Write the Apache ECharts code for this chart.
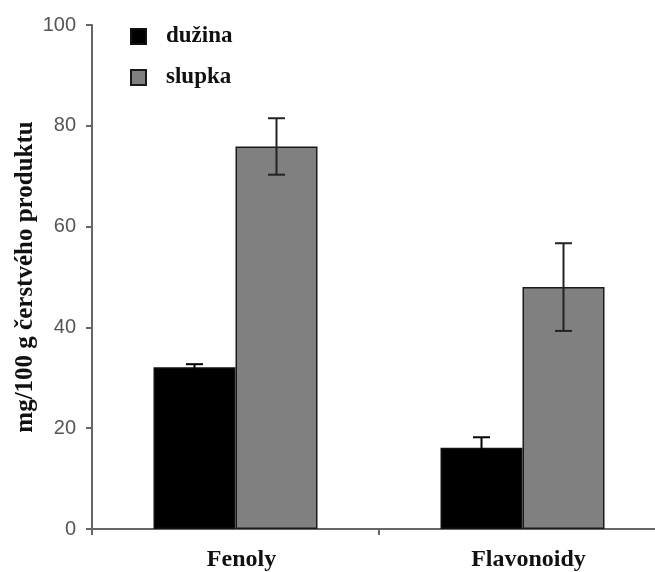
<!DOCTYPE html>
<html>
<head>
<meta charset="utf-8">
<script src="https://cdn.jsdelivr.net/npm/echarts@6/dist/echarts.min.js"></script>
<style>
html,body{margin:0;padding:0;background:#fff;}
#chart{width:655px;height:572px;}
</style>
</head>
<body>
<div id="chart"></div>
<script>
const categories = ['Fenoly', 'Flavonoidy'];
const duzina = [32.1, 16.1];
const duzinaErr = [0.6, 2.1];
const slupka = [75.9, 48.0];
const slupkaErr = [5.6, 8.7];
const yTicks = [0, 20, 40, 60, 80, 100];

const BAR_W = 82;
const serif = '"Liberation Serif", "Times New Roman", serif';
const sans = '"Liberation Sans", Arial, sans-serif';

const errData = [];
categories.forEach((c, i) => {
  errData.push([i, duzina[i], duzinaErr[i], -1]);
  errData.push([i, slupka[i], slupkaErr[i], 1]);
});

const chart = echarts.init(document.getElementById('chart'));
chart.setOption({
  animation: false,
  backgroundColor: '#fff',
  grid: { left: 92, top: 25, bottom: 43, width: 574, containLabel: false, outerBoundsMode: 'none' },
  legend: {
    data: ['dužina', 'slupka'],
    orient: 'vertical',
    left: 130, top: 25,
    padding: 0,
    itemWidth: 15, itemHeight: 15,
    itemGap: 18,
    icon: 'rect',
    textStyle: { fontFamily: serif, fontWeight: 'bold', fontSize: 23, color: '#111', padding: [0, 0, 0, 15] }
  },
  xAxis: {
    type: 'category',
    data: categories,
    boundaryGap: true,
    axisLine: { lineStyle: { color: '#666', width: 2 } },
    axisTick: { show: true, length: 6, lineStyle: { color: '#666', width: 2 } },
    axisLabel: { fontFamily: serif, fontWeight: 'bold', fontSize: 24, color: '#111', margin: 19, padding: [0, 0, 0, 12] }
  },
  yAxis: {
    type: 'value',
    min: yTicks[0], max: yTicks[yTicks.length - 1], interval: yTicks[1] - yTicks[0],
    name: 'mg/100 g čerstvého produktu',
    nameLocation: 'middle',
    nameRotate: 90,
    nameGap: 54,
    nameMoveOverlap: false,
    nameTextStyle: { fontFamily: serif, fontWeight: 'bold', fontSize: 25, color: '#111' },
    axisLine: { show: true, lineStyle: { color: '#666', width: 2 } },
    axisTick: { show: true, length: 6, lineStyle: { color: '#666', width: 2 } },
    axisLabel: { fontFamily: sans, fontSize: 20, color: '#555', margin: 16 },
    splitLine: { show: false }
  },
  series: [
    {
      name: 'dužina', type: 'bar', data: duzina,
      barWidth: BAR_W, barGap: '0%',
      itemStyle: { color: '#000', borderColor: '#111', borderWidth: 1.5 }
    },
    {
      name: 'slupka', type: 'bar', data: slupka,
      barWidth: BAR_W, barGap: '0%',
      itemStyle: { color: '#808080', borderColor: '#1a1a1a', borderWidth: 1.5 }
    },
    {
      name: 'err', type: 'custom', data: errData, z: 10,
      encode: { x: 0, y: 1 },
      renderItem: function (params, api) {
        const ci = api.value(0), v = api.value(1), e = api.value(2), s = api.value(3);
        const c = api.coord([ci, v]);
        const x = c[0] + s * BAR_W / 2;
        const yt = api.coord([ci, v + e])[1];
        const yb = api.coord([ci, v - e])[1];
        const hw = 8.5;
        const st = { stroke: s < 0 ? '#000' : '#222', lineWidth: 2 };
        return {
          type: 'group',
          children: [
            { type: 'line', shape: { x1: x, y1: yt, x2: x, y2: yb }, style: st },
            { type: 'line', shape: { x1: x - hw, y1: yt, x2: x + hw, y2: yt }, style: st },
            { type: 'line', shape: { x1: x - hw, y1: yb, x2: x + hw, y2: yb }, style: st }
          ]
        };
      }
    }
  ]
});
</script>
</body>
</html>
